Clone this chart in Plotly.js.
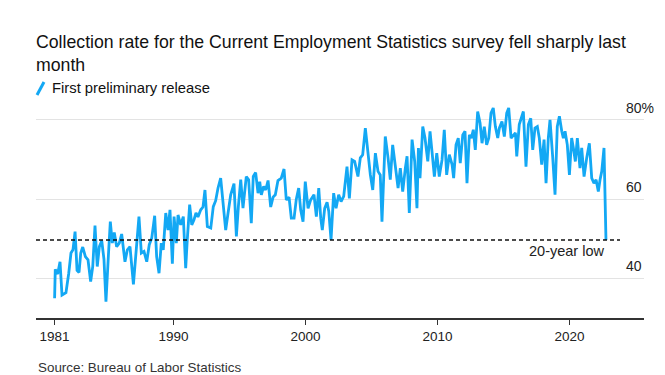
<!DOCTYPE html>
<html>
<head>
<meta charset="utf-8">
<script src="https://cdn.plot.ly/plotly-3.0.1.min.js"></script>
<style>
html,body{margin:0;padding:0;background:#fff;}
#chart{width:665px;height:375px;}
</style>
</head>
<body>
<div id="chart"></div>
<script>
// ---- data ----
const years = [
1981.00,1981.05,1981.23,1981.41,1981.56,1981.86,1982.07,1982.24,1982.39,1982.55,
1982.70,1982.85,1982.98,1983.13,1983.33,1983.53,1983.73,1983.89,1984.06,1984.23,
1984.39,1984.57,1984.74,1984.89,1985.07,1985.22,1985.37,1985.52,1985.70,1985.90,
1986.08,1986.33,1986.51,1986.71,1986.97,1987.39,1987.57,1987.77,1987.98,1988.17,
1988.36,1988.58,1988.73,1988.91,1989.08,1989.23,1989.42,1989.59,1989.74,1989.92,
1990.05,1990.22,1990.35,1990.55,1990.75,1990.93,1991.05,1991.23,1991.39,1991.56,
1991.71,1991.86,1992.07,1992.24,1992.39,1992.57,1992.83,1993.02,1993.20,1993.38,
1993.58,1993.78,1993.96,1994.14,1994.34,1994.59,1994.77,1994.92,1995.10,1995.27,
1995.52,1995.70,1995.90,1996.05,1996.23,1996.41,1996.54,1996.66,1996.84,1996.99,
1997.17,1997.37,1997.55,1997.72,1997.92,1998.17,1998.38,1998.55,1998.76,1998.93,
1999.14,1999.31,1999.49,1999.64,1999.82,1999.99,2000.20,2000.40,2000.65,2000.83,
2001.01,2001.16,2001.28,2001.46,2001.64,2001.77,2001.94,2002.14,2002.32,2002.52,
2002.70,2002.90,2003.15,2003.33,2003.53,2003.73,2003.98,2004.16,2004.34,2004.54,
2004.74,2004.92,2005.10,2005.30,2005.50,2005.67,2005.80,2006.05,2006.26,2006.43,
2006.61,2006.81,2007.02,2007.19,2007.37,2007.57,2007.70,2007.87,2008.08,2008.28,
2008.45,2008.56,2008.68,2008.89,2009.06,2009.27,2009.44,2009.59,2009.77,2009.95,
2010.14,2010.35,2010.52,2010.70,2010.90,2011.11,2011.23,2011.41,2011.58,2011.73,
2011.92,2012.09,2012.24,2012.42,2012.57,2012.72,2012.87,2013.05,2013.23,2013.38,
2013.55,2013.73,2013.89,2014.06,2014.23,2014.39,2014.57,2014.69,2014.89,2015.07,
2015.25,2015.40,2015.58,2015.91,2016.01,2016.20,2016.51,2016.71,2016.89,2017.07,
2017.22,2017.39,2017.57,2017.72,2017.90,2018.08,2018.23,2018.40,2018.53,2018.73,
2018.91,2019.08,2019.24,2019.42,2019.54,2019.67,2019.84,2020.00,2020.17,2020.30,
2020.45,2020.60,2020.80,2020.93,2021.11,2021.31,2021.51,2021.69,2021.86,2022.02,
2022.19,2022.32,2022.45,2022.62,2022.77
];
const rates = [
35.0,42.3,41.1,44.2,35.8,36.4,41.3,46.4,47.2,51.8,
42.0,41.5,46.4,47.9,45.5,44.7,39.2,43.0,53.3,43.0,
48.0,49.5,44.8,34.1,45.5,54.3,48.9,51.6,48.0,48.9,
51.2,44.2,47.2,48.0,38.5,55.6,46.4,46.8,44.2,48.5,
50.2,55.8,45.5,41.3,48.9,47.2,56.5,52.2,57.3,43.7,
55.6,48.9,56.0,53.5,55.6,42.6,49.7,58.6,53.5,54.8,
56.5,55.5,57.3,58.0,62.3,53.1,52.7,58.1,59.6,62.8,
65.3,57.3,52.2,56.5,61.1,63.9,50.6,58.1,64.9,57.7,
65.7,64.9,53.9,65.7,66.7,61.5,64.4,61.1,63.2,62.3,
64.7,58.0,60.5,61.1,64.7,65.3,67.6,59.8,60.5,55.2,
55.2,60.0,62.8,57.3,54.3,64.4,57.7,59.8,61.1,55.6,
62.8,55.2,52.2,57.7,59.2,56.9,49.7,61.5,57.7,61.1,
59.4,60.7,68.2,60.2,69.9,69.5,65.7,70.4,71.2,77.9,
70.8,66.1,62.3,71.6,67.0,66.1,54.3,75.8,70.4,64.9,
73.7,68.7,62.8,67.8,61.9,67.8,70.8,56.5,75.0,69.5,
57.7,72.9,65.3,78.3,75.4,69.5,77.1,72.0,65.7,71.6,
65.7,69.9,77.5,66.1,71.2,68.7,65.3,73.7,75.4,69.1,
76.2,77.1,64.0,76.2,75.4,77.5,72.4,82.1,79.2,74.1,
78.3,73.7,75.4,81.7,83.0,78.3,75.4,77.9,79.6,75.8,
81.7,83.0,75.4,76.7,70.8,78.8,82.1,68.2,78.8,80.4,
72.4,77.9,78.3,75.4,68.7,75.0,64.0,75.4,80.0,70.8,
61.1,78.3,80.9,77.1,75.4,77.1,73.7,66.1,75.4,72.9,
69.5,75.4,67.8,72.9,65.7,70.4,74.1,65.3,64.0,64.9,
61.9,64.9,67.0,72.9,49.7
];
const seriesName = 'First preliminary release';
const xTickVals = [1981, 1990, 2000, 2010, 2020];
const xTickText = ['1981', '1990', '2000', '2010', '2020'];
const yTickVals = [40, 60, 80];
const yTickText = ['40', '60', '80%'];
const lowValue = 49.7;
const lowLabel = '20-year low';
const titleText = 'Collection rate for the Current Employment Statistics survey fell sharply last<br>month';
const sourceText = 'Source: Bureau of Labor Statistics';

// ---- styling ----
const FONT = '"Liberation Sans", Arial, Helvetica, sans-serif';
const BLUE = '#13a8f4';
const W = 665, H = 375;
const M = {l: 36, r: 21, t: 104, b: 57};
const plotW = W - M.l - M.r, plotH = H - M.t - M.b;
const px2paperX = px => (px - M.l) / plotW;
const px2paperY = py => (H - M.b - py) / plotH;

const annotations = [];
yTickVals.forEach((v, i) => {
  annotations.push({
    xref: 'paper', yref: 'y', x: px2paperX(624), y: v,
    xanchor: 'left', yanchor: 'bottom', yshift: 2,
    text: yTickText[i], showarrow: false,
    font: {family: FONT, size: 14, color: '#222'}
  });
});
annotations.push({
  xref: 'x', yref: 'y', x: years[years.length - 1], y: lowValue,
  xanchor: 'right', yanchor: 'top', yshift: -1,
  text: lowLabel, showarrow: false,
  font: {family: FONT, size: 14.5, color: '#222'}
});
annotations.push({
  xref: 'paper', yref: 'paper', x: px2paperX(50), y: px2paperY(88),
  xanchor: 'left', yanchor: 'middle',
  text: seriesName, showarrow: false,
  font: {family: FONT, size: 14.8, color: '#111'}
});
annotations.push({
  xref: 'paper', yref: 'paper', x: 0, y: px2paperY(367),
  xanchor: 'left', yanchor: 'middle',
  text: sourceText, showarrow: false,
  font: {family: FONT, size: 13.4, color: '#333'}
});

const shapes = [
  {type: 'line', xref: 'paper', yref: 'y', x0: 0, x1: px2paperX(620), y0: lowValue, y1: lowValue,
   line: {color: '#111', width: 1.5, dash: '4px,3px'}},
  {type: 'line', xref: 'paper', yref: 'paper',
   x0: px2paperX(37), y0: px2paperY(95), x1: px2paperX(44), y1: px2paperY(82),
   line: {color: BLUE, width: 3}}
];

const trace = {
  type: 'scatter', mode: 'lines', name: seriesName,
  x: years, y: rates,
  line: {color: BLUE, width: 2.8},
  hoverinfo: 'x+y'
};

const layout = {
  width: W, height: H,
  margin: M,
  paper_bgcolor: '#fff', plot_bgcolor: '#fff',
  showlegend: false,
  title: {
    text: titleText,
    font: {family: FONT, size: 17.7, color: '#111'},
    x: 0, xref: 'paper', xanchor: 'left',
    y: 1 - 48 / H, yref: 'container', yanchor: 'top'
  },
  xaxis: {
    range: [1979.59, 2025.65],
    tickvals: xTickVals, ticktext: xTickText,
    showgrid: false, zeroline: false,
    showline: true, linecolor: '#333', linewidth: 1.5,
    ticks: 'outside', ticklen: 5, tickcolor: '#333', tickwidth: 1,
    tickfont: {family: FONT, size: 13.5, color: '#222'}
  },
  yaxis: {
    range: [30, 84],
    tickvals: yTickVals,
    showticklabels: false,
    showgrid: true, gridcolor: '#e3e3e3', gridwidth: 1,
    zeroline: false, showline: false, ticks: ''
  },
  annotations: annotations,
  shapes: shapes
};

Plotly.newPlot('chart', [trace], layout, {displayModeBar: false, staticPlot: true});
</script>
</body>
</html>
